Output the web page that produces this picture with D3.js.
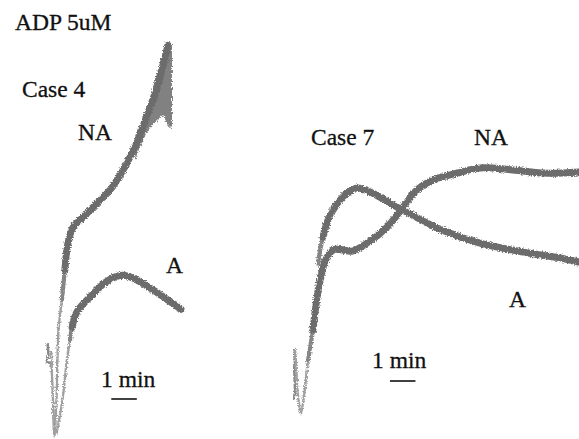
<!DOCTYPE html>
<html>
<head>
<meta charset="utf-8">
<script src="https://cdn.jsdelivr.net/npm/d3@7"></script>
<style>
  html, body { margin: 0; padding: 0; background: #fff; }
  svg { display: block; }
  text { font-family: "Liberation Serif", "DejaVu Serif", serif; fill: #111; }
</style>
</head>
<body>
<div class="plot-container"></div>
<script>
// traces: [time (min), signal (%)]
const case4NA = [
  [0.24, 22], [0.30, 12], [0.37, 0.8], [0.45, 10], [0.53, 27.5], [0.66, 35],
  [0.78, 42.5], [0.90, 49.2], [1.10, 53.2], [1.49, 55.7], [2.04, 59.2],
  [2.55, 62.5], [3.06, 67.5], [3.33, 70.7], [3.73, 76.2], [4.00, 81.2],
  [4.31, 86.2], [4.59, 92.5], [4.82, 98.7]
];
const case4A = [
  [0.45, 1.7], [0.59, 6.2], [0.71, 11.2], [0.86, 20], [0.98, 25], [1.06, 28.2],
  [1.25, 32], [1.76, 35.7], [2.43, 39.7], [3.02, 41.2], [3.45, 40.5],
  [4.24, 37.5], [4.82, 35], [5.33, 32.7]
];
// noisy top of Case 4 NA: [time, low, high]
const case4NABand = [
  [3.53, 70, 76], [3.92, 76, 82], [4.20, 78.7, 87.5], [4.43, 80, 92.5],
  [4.63, 81.2, 97], [4.82, 78.7, 99], [4.98, 78, 99]
];
const case7NA = [
  [0.20, 22.5], [0.24, 18.7], [0.31, 11.2], [0.43, 6.7], [0.55, 11.2],
  [0.71, 20], [0.90, 27.5], [1.18, 40], [1.45, 45.7], [1.76, 47.7],
  [2.08, 47.5], [2.43, 47.2], [3.02, 49.2], [3.80, 53.2], [4.43, 58.2],
  [4.98, 62.5], [5.61, 65], [6.55, 66.7], [7.45, 68], [8.75, 67.5],
  [10.08, 66.7], [11.33, 67]
];
const case7A = [
  [1.10, 44], [1.18, 47.5], [1.29, 50.7], [1.49, 55], [1.69, 57.5],
  [1.96, 60], [2.24, 61.7], [2.63, 63], [3.25, 61.7], [3.92, 59.2],
  [4.71, 56.5], [5.88, 52.7], [7.45, 49.2], [9.41, 46.7], [10.59, 45.5],
  [11.33, 44.5]
];
// injection marks at the start of each record
const case4Mark = [[0.10, 24.2], [0.14, 21], [0.05, 19.5], [0.27, 19.2], [0.20, 18]];
const case7Mark = [[0.14, 22.7], [0.20, 19.5], [0.16, 18.7], [0.20, 12], [0.14, 10.2]];

const width = 579, height = 439;
const TRACE_COLOR = "#6c6c6c";
const MID_COLOR = "#858585";
const THIN_COLOR = "#a0a0a0";

const svg = d3.select("div.plot-container").append("svg")
  .attr("width", width).attr("height", height);

const defs = svg.append("defs");
const rough = defs.append("filter").attr("id", "rough")
  .attr("x", "-10%").attr("y", "-10%").attr("width", "120%").attr("height", "120%");
rough.append("feTurbulence").attr("type", "fractalNoise")
  .attr("baseFrequency", "0.8").attr("numOctaves", 2).attr("seed", 3).attr("result", "n");
rough.append("feDisplacementMap").attr("in", "SourceGraphic").attr("in2", "n")
  .attr("scale", 4).attr("xChannelSelector", "R").attr("yChannelSelector", "G");

const y = d3.scaleLinear().domain([0, 100]).range([440, 40]);
const xL = d3.scaleLinear().domain([0, 1]).range([45, 70.5]);
const xR = d3.scaleLinear().domain([0, 1]).range([290, 315.5]);

// pen gets heavier once the trace leaves the steep start:
// thin line everywhere, then a medium and a heavy overlay from the given times
function drawTrace(g, data, x, midFrom, thickFrom) {
  const line = d3.line().curve(d3.curveCatmullRom.alpha(0.5))
    .x(d => x(d[0])).y(d => y(d[1]));
  const layers = [
    { pts: data, w: 2.4, c: THIN_COLOR },
    { pts: data.filter(d => d[0] >= midFrom), w: 4.2, c: MID_COLOR },
    { pts: data.filter(d => d[0] >= thickFrom), w: 7, c: TRACE_COLOR }
  ];
  g.append("g").attr("filter", "url(#rough)")
    .selectAll("path").data(layers).enter().append("path")
    .attr("d", d => line(d.pts))
    .attr("fill", "none")
    .attr("stroke", d => d.c)
    .attr("stroke-width", d => d.w)
    .attr("stroke-linecap", "round")
    .attr("stroke-linejoin", "round");
}

function drawMark(g, data, x) {
  g.append("path")
    .attr("d", d3.line().x(d => x(d[0])).y(d => y(d[1]))(data))
    .attr("fill", "none").attr("stroke", "#8a8a8a").attr("stroke-width", 2.5)
    .attr("filter", "url(#rough)");
}

// Case 4
const left = svg.append("g");
drawMark(left, case4Mark, xL);
drawTrace(left, case4A, xL, 0.98, 1.06);
drawTrace(left, case4NA, xL, 0.66, 0.78);
left.append("path")
  .attr("d", d3.area().curve(d3.curveMonotoneX)
    .x(d => xL(d[0])).y0(d => y(d[1])).y1(d => y(d[2]))(case4NABand))
  .attr("fill", TRACE_COLOR).attr("opacity", 0.85)
  .attr("filter", "url(#rough)");

// Case 7
const right = svg.append("g");
drawMark(right, case7Mark, xR);
drawTrace(right, case7NA, xR, 0.71, 0.90);
drawTrace(right, case7A, xR, 1.10, 1.29);

// labels
const labels = [
  { text: "ADP 5uM", x: 15, y: 30 },
  { text: "Case 4", x: 22, y: 97 },
  { text: "NA", x: 78, y: 140 },
  { text: "A", x: 166, y: 273 },
  { text: "1 min", x: 101, y: 387 },
  { text: "Case 7", x: 311, y: 145 },
  { text: "NA", x: 474, y: 145 },
  { text: "A", x: 509, y: 307 },
  { text: "1 min", x: 372, y: 368 }
];
svg.append("g").selectAll("text").data(labels).enter().append("text")
  .attr("x", d => d.x).attr("y", d => d.y)
  .style("font-size", "23.5px")
  .style("stroke", "#111").style("stroke-width", "0.3px")
  .text(d => d.text);

// 1 min scale bars
const bars = [
  { x: xL, t0: 2.60, v: 10.25 },
  { x: xR, t0: 3.92, v: 14.75 }
];
svg.append("g").selectAll("line").data(bars).enter().append("line")
  .attr("x1", d => d.x(d.t0)).attr("x2", d => d.x(d.t0 + 1))
  .attr("y1", d => y(d.v)).attr("y2", d => y(d.v))
  .attr("stroke", "#111").attr("stroke-width", 1.6);
</script>
</body>
</html>
